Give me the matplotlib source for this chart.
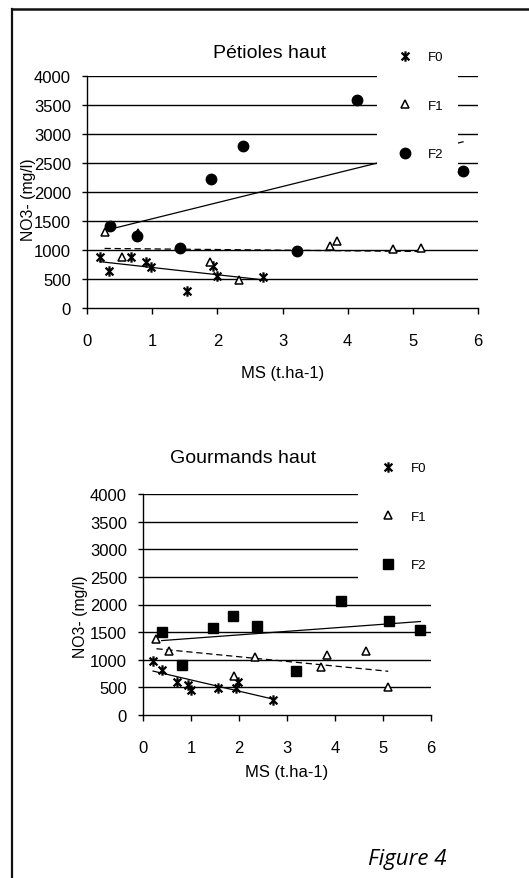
import numpy as np
import matplotlib
matplotlib.use("Agg")
import matplotlib.pyplot as plt
from matplotlib.path import Path
from matplotlib.lines import Line2D
from matplotlib.patches import Rectangle

plt.rcParams['font.family'] = ['Liberation Sans', 'DejaVu Sans']

# --- Pétioles haut ---
pet_f0_x = [0.20, 0.34, 0.67, 0.90, 0.98, 1.53, 1.94, 2.00, 2.70]
pet_f0_y = [880, 643, 880, 788, 700, 298, 730, 546, 540]
pet_f1_x = [0.27, 0.53, 0.78, 1.89, 2.33, 3.73, 3.84, 4.70, 5.12]
pet_f1_y = [1305, 874, 1290, 788, 483, 1075, 1150, 1017, 1034]
pet_f2_x = [0.35, 0.76, 1.43, 1.90, 2.39, 3.23, 4.15, 5.77]
pet_f2_y = [1420, 1247, 1029, 2219, 2788, 988, 3591, 2357]

# --- Gourmands haut ---
gou_f0_x = [0.21, 0.40, 0.70, 0.94, 1.00, 1.57, 1.93, 1.98, 2.70]
gou_f0_y = [972, 820, 591, 543, 458, 483, 480, 600, 271]
gou_f1_x = [0.28, 0.54, 1.90, 2.33, 3.71, 3.83, 4.65, 5.11]
gou_f1_y = [1376, 1164, 700, 1044, 863, 1086, 1164, 501]
gou_f2_x = [0.39, 0.82, 1.45, 1.88, 2.37, 3.18, 4.12, 5.13, 5.78]
gou_f2_y = [1497, 905, 1575, 1797, 1616, 802, 2069, 1707, 1538]

series_names = ['F0', 'F1', 'F2']
x_ticks = [0, 1, 2, 3, 4, 5, 6]
y_ticks = [0, 500, 1000, 1500, 2000, 2500, 3000, 3500, 4000]

W, H = 529, 879
fig = plt.figure(figsize=(W / 100, H / 100), dpi=100)

# asterisk marker: vertical bar + X
ast = Path([(0, -1), (0, 1), (-0.75, -0.75), (0.75, 0.75), (-0.75, 0.75), (0.75, -0.75)],
           [Path.MOVETO, Path.LINETO, Path.MOVETO, Path.LINETO, Path.MOVETO, Path.LINETO])
AST_MS, AST_MEW = 7.5, 1.6
TRI_MS = 6


def px_axes(l, t, r, b):
    return fig.add_axes([l / W, 1 - b / H, (r - l) / W, (b - t) / H])


def trend(ax, x, y, ls):
    k, c = np.polyfit(x, y, 1)
    xs = np.array([min(x), max(x)])
    ax.plot(xs, k * xs + c, color='black', lw=0.9, ls=ls, zorder=2)


def draw(ax, data, f2_marker, f2_size, legend_box, legend_anchor, title, title_xy):
    (x0, y0), (x1, y1), (x2, y2) = data
    ax.set_xlim(0, 6)
    ax.set_ylim(0, 4000)
    ax.set_xticks(x_ticks)
    ax.set_yticks(y_ticks)
    for v in y_ticks[1:]:
        ax.axhline(v, color='black', lw=1.0, zorder=1)
    for s in ['top', 'right']:
        ax.spines[s].set_visible(False)
    for s in ['left', 'bottom']:
        ax.spines[s].set_linewidth(1.0)
    ax.tick_params(axis='x', direction='out', length=4, width=1, pad=14, labelsize=12)
    ax.tick_params(axis='y', direction='out', length=3.5, width=1, pad=8, labelsize=12)

    trend(ax, x0, y0, '-')
    trend(ax, x1, y1, (0, (5, 3)))
    trend(ax, x2, y2, '-')
    ax.plot(x0, y0, ls='none', marker=ast, ms=AST_MS, mec='black', mew=AST_MEW, zorder=4, clip_on=False)
    ax.plot(x1, y1, ls='none', marker='^', ms=TRI_MS, mfc='white', mec='black', mew=1.1, zorder=4, clip_on=False)
    ax.plot(x2, y2, ls='none', marker=f2_marker, ms=f2_size, mfc='black', mec='black', zorder=4, clip_on=False)

    ax.set_xlabel('MS (t.ha-1)', fontsize=12)
    ax.set_ylabel('NO3- (mg/l)', fontsize=11.3)

    # white legend area
    l, t, r, b = legend_box
    fig.patches.append(Rectangle((l / W, 1 - b / H), (r - l) / W, (b - t) / H,
                                 transform=fig.transFigure, facecolor='white',
                                 edgecolor='none', zorder=3))
    handles = [
        Line2D([], [], ls='none', marker=ast, ms=AST_MS, mec='black', mew=AST_MEW),
        Line2D([], [], ls='none', marker='^', ms=TRI_MS, mfc='white', mec='black', mew=1.1),
        Line2D([], [], ls='none', marker=f2_marker, ms=f2_size, mfc='black', mec='black'),
    ]
    leg = fig.legend(handles, series_names, loc='upper left',
                     bbox_to_anchor=(legend_anchor[0] / W, 1 - legend_anchor[1] / H),
                     frameon=False, fontsize=9.5, handlelength=1.0, handletextpad=1.3,
                     labelspacing=2.75, borderpad=0, borderaxespad=0)
    leg.set_zorder(5)
    fig.text(title_xy[0] / W, 1 - title_xy[1] / H, title, fontsize=14,
             ha='center', va='baseline')


ax1 = px_axes(87, 77, 478, 309)
draw(ax1, [(pet_f0_x, pet_f0_y), (pet_f1_x, pet_f1_y), (pet_f2_x, pet_f2_y)],
     'o', 7.5, (377, 38, 458, 172), (398, 52), 'Pétioles haut', (270, 58))
ax1.xaxis.set_label_coords(0.5, -0.245)
ax1.yaxis.set_label_coords(-0.13, 0.47)

ax2 = px_axes(143, 495, 431, 716)
draw(ax2, [(gou_f0_x, gou_f0_y), (gou_f1_x, gou_f1_y), (gou_f2_x, gou_f2_y)],
     's', 6.5, (358, 445, 445, 590), (381, 463), 'Gourmands haut', (243, 463))
ax2.xaxis.set_label_coords(0.5, -0.22)
ax2.yaxis.set_label_coords(-0.191, 0.45)

fig.text(368 / W, 1 - 865 / H, 'Figure 4', fontsize=16, style='italic',
         family=['Open Sans', 'DejaVu Sans'], ha='left', va='baseline')

# page frame
fig.lines.append(Line2D([12 / W, 12 / W], [1 - 10 / H, 0], transform=fig.transFigure,
                        color='#111111', lw=1.6))
fig.lines.append(Line2D([12 / W, 1], [1 - 10 / H, 1 - 10 / H], transform=fig.transFigure,
                        color='#111111', lw=1.8))

fig.savefig('out.png', dpi=100)
